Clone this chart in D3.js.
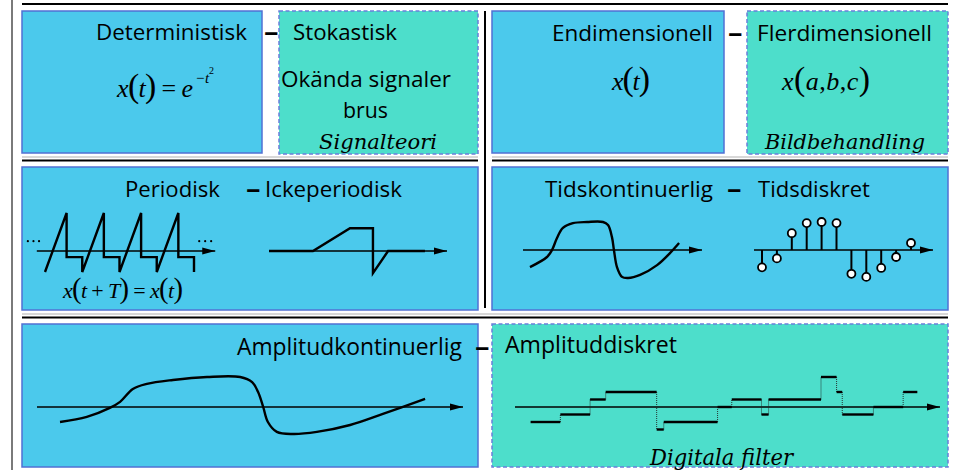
<!DOCTYPE html>
<html><head><meta charset="utf-8">
<script src="https://cdn.jsdelivr.net/npm/d3@7"></script>
<style>body{margin:0;background:#fff;} svg{display:block}</style>
</head><body><svg id="c" width="955" height="470"></svg>
<script>
// ---------- data ----------
// Periodisk sawtooth (time in periods, amplitude)
const sawT = [0,0.58,0.58,1,1,1.58,1.58,2,2,2.58,2.58,3,3,3.58,3.58,4,4];
const sawV = [-0.55,1,-0.16,-0.16,-0.55,1,-0.16,-0.16,-0.55,1,-0.16,-0.16,-0.55,1,-0.16,-0.16,-0.55];
const dotsT = [-0.46,-0.31,-0.16, 4.14,4.30,4.46];
// Ickeperiodisk
const apT = [0, 2.47, 4.55, 5.84, 5.84, 6.69, 8.76];
const apV = [0, 0, 0.6, 0.6, -0.58, 0, 0];
// Tidskontinuerlig
const ctT = [0.39,1.34,1.62,1.90,2.23,2.79,3.58,4.47,4.75,4.97,5.08,5.25,5.53,5.87,6.54,7.49,8.21,8.72];
const ctV = [-0.61,-0.25,0,0.43,0.79,0.96,1,1,0.89,0.46,0,-0.61,-0.96,-1,-0.89,-0.54,-0.11,0.25];
// Tidsdiskret
const dN = [0,1,2,3,4,5,6,7,8,9,10];
const dV = [-0.62,-0.3,0.6,0.96,1.0,0.96,-0.85,-0.96,-0.64,-0.25,0.25];
// Amplitudkontinuerlig
const acT = [0.54,1.17,1.71,1.95,2.25,2.58,3.19,3.99,4.77,5.05,5.19,5.31,5.42,5.63,6.01,6.57,7.35,8.12,9.11];
const acV = [-0.5,-0.33,-0.03,0.17,0.6,0.77,0.9,1,1,0.83,0.5,0,-0.5,-0.83,-0.9,-0.83,-0.6,-0.23,0.27];
// Amplituddiskret (step edges and quantised levels)
const stepEdges = [1.1,3.2,5.3,6.4,10.0,10.5,14.3,15.3,17.4,17.9,21.6,22.7,23.1,25.3,27.4,28.4];
const stepLevels = [-2,-1,1,2,-3,-2,0,1,-1,1,4,2,-1,0,2];

// ---------- drawing ----------
const svg = d3.select('#c');
const BLUE='#4bc9ec', TEAL='#4ddecb', BORDER='#5070d4', DASHB='#6a7fda';
const SANS="'Open Sans', 'Noto Sans', sans-serif";
const SERIF="'Liberation Serif', 'Times New Roman', serif";
const ISERIF="'DejaVu Serif', serif";

const defs = svg.append('defs');
defs.append('marker').attr('id','arr').attr('markerUnits','userSpaceOnUse')
  .attr('markerWidth',14).attr('markerHeight',8).attr('refX',13).attr('refY',4).attr('orient','auto')
  .append('path').attr('d','M0,0.5 L13,4 L0,7.5 Z').attr('fill','#000');

// frame lines
svg.append('line').attr('x1',12).attr('x2',12).attr('y1',0).attr('y2',470).attr('stroke','#7a7a7a').attr('stroke-width',2);
svg.append('line').attr('x1',22).attr('x2',948).attr('y1',4).attr('y2',4).attr('stroke','#000').attr('stroke-width',2);
[[22,478],[492,948]].forEach(([a,b])=>{
  svg.append('line').attr('x1',a).attr('x2',b).attr('y1',157).attr('y2',157).attr('stroke','#b0b0b0').attr('stroke-width',1);
  svg.append('line').attr('x1',a).attr('x2',b).attr('y1',160.5).attr('y2',160.5).attr('stroke','#000').attr('stroke-width',2);
});
svg.append('line').attr('x1',22).attr('x2',948).attr('y1',314).attr('y2',314).attr('stroke','#b0b0b0').attr('stroke-width',1);
svg.append('line').attr('x1',22).attr('x2',948).attr('y1',317.5).attr('y2',317.5).attr('stroke','#000').attr('stroke-width',2);
svg.append('line').attr('x1',485).attr('x2',485).attr('y1',11).attr('y2',308).attr('stroke','#000').attr('stroke-width',2);

// boxes
const boxes = [[22,11,262,153,'b'],[279,11,478,154,'t'],[492,11,724,153,'b'],[747,11,948,154,'t'],
               [22,167,478,310,'b'],[492,167,948,310,'b'],[22,324,478,467,'b'],[492,324,948,467,'t']];
boxes.forEach(([x0,y0,x1,y1,k])=>{
  svg.append('rect').attr('x',x0).attr('y',y0).attr('width',x1-x0).attr('height',y1-y0)
    .attr('fill',k==='b'?BLUE:TEAL).attr('stroke',k==='b'?BORDER:DASHB).attr('stroke-width',1.5)
    .attr('stroke-dasharray',k==='b'?null:'4,2.5');
});

function label(txt,x,y,w,fam,italic){
  const t = svg.append('text').attr('x',x).attr('y',y).text(txt)
    .attr('font-family',fam||SANS).attr('font-style',italic?'italic':'normal')
    .attr('font-size',20).attr('fill','#000');
  if(w){ const L=t.node().getComputedTextLength(); t.attr('font-size',(20*w/L).toFixed(2)); }
  return t;
}
function ilabel(txt,x,y,w,size){
  return svg.append('text').attr('x',x).attr('y',y).text(txt)
    .attr('font-family',ISERIF).attr('font-style','italic').attr('font-size',size)
    .attr('textLength',w).attr('lengthAdjust','spacingAndGlyphs').attr('fill','#000');
}
function dash(x,y){ return label('–',x,y,null).attr('font-size',29).attr('font-weight',600); }
label('Deterministisk',96,40,151);
dash(264,41);
label('Stokastisk',293,40,104);
label('Okända signaler',281,87,170);
label('brus',343,118,45);
ilabel('Signalteori',319,149,118,21);
label('Endimensionell',552,41,161);
dash(728,42);
label('Flerdimensionell',757,41,175);
ilabel('Bildbehandling',765,149,160,21);
label('Periodisk',125,197,95);
dash(246,198);
label('Ickeperiodisk',265,197,137);
label('Tidskontinuerlig',545,197,168);
dash(727,198);
label('Tidsdiskret',758,197,112);
label('Amplitudkontinuerlig',237,355,225);
dash(475,356);
label('Amplituddiskret',505,353,172);
ilabel('Digitala filter',650,465,143,22);

// formulas
function formula(parts,x,y,w,size){
  const t = svg.append('text').attr('x',x).attr('y',y).attr('font-family',SERIF).attr('font-size',size).attr('fill','#000');
  parts.forEach(([s,it,big])=>{
    t.append('tspan').text(s).attr('font-style',it?'italic':'normal').attr('font-size',big?size*1.3:size);
  });
  if(w){ t.attr('textLength',w).attr('lengthAdjust','spacing'); }
  return t;
}
formula([['x',1],['(',0,1],['t',1],[')',0,1],[' = ',0],['e',1]],117,97,76,26);
svg.append('text').attr('x',195).attr('y',83).attr('font-family',SERIF).attr('font-size',15).attr('font-style','italic').text('−t');
svg.append('text').attr('x',209).attr('y',74).attr('font-family',SERIF).attr('font-size',10).text('2');
formula([['x',1],['(',0,1],['t',1],[')',0,1]],612,90,38,26);
formula([['x',1],['(',0,1],['a',1],[',',0],['b',1],[',',0],['c',1],[')',0,1]],782,90,88,26);
formula([['x',1],['(',0,1],['t',1],[' + ',0],['T',1],[')',0,1],[' = ',0],['x',1],['(',0,1],['t',1],[')',0,1]],63,298,120,22);

// helper to draw axis line with arrow
function axis(x0,x1,y){
  svg.append('line').attr('x1',x0).attr('x2',x1).attr('y1',y).attr('y2',y)
    .attr('stroke','#000').attr('stroke-width',1.4).attr('marker-end','url(#arr)');
}
const SW=2.4;

// Periodisk
{
  const x=d3.scaleLinear().domain([0,4]).range([45,194]);
  const y=d3.scaleLinear().domain([-0.55,1]).range([272,213]);
  axis(x(-0.22),x(4.57),y(0));
  svg.append('path').datum(sawT.map((t,i)=>[t,sawV[i]]))
    .attr('d',d3.line().x(d=>x(d[0])).y(d=>y(d[1])))
    .attr('fill','none').attr('stroke','#000').attr('stroke-width',SW).attr('stroke-linejoin','miter');
  svg.selectAll('.dot').data(dotsT).join('circle').attr('cx',d=>x(d)).attr('cy',y(0.26)).attr('r',1.1).attr('fill','#000');
}
// Ickeperiodisk
{
  const x=d3.scaleLinear().domain([0,10]).range([269,447]);
  const y=d3.scaleLinear().domain([-0.55,1]).range([272,213]);
  axis(x(0),x(10),y(0));
  svg.append('path').datum(apT.map((t,i)=>[t,apV[i]]))
    .attr('d',d3.line().x(d=>x(d[0])).y(d=>y(d[1])))
    .attr('fill','none').attr('stroke','#000').attr('stroke-width',SW);
}
// Tidskontinuerlig
{
  const x=d3.scaleLinear().domain([0,10]).range([523,702]);
  const y=d3.scaleLinear().domain([-1,1]).range([278,222]);
  axis(x(0),x(10),y(0));
  svg.append('path').datum(ctT.map((t,i)=>[t,ctV[i]]))
    .attr('d',d3.line().curve(d3.curveCatmullRom).x(d=>x(d[0])).y(d=>y(d[1])))
    .attr('fill','none').attr('stroke','#000').attr('stroke-width',SW);
}
// Tidsdiskret
{
  const x=d3.scaleLinear().domain([0,10]).range([762,911]);
  const y=d3.scaleLinear().domain([-1,1]).range([278,222]);
  axis(754,933,y(0));
  svg.selectAll('.stem').data(dN).join('line').attr('x1',d=>x(d)).attr('x2',d=>x(d))
    .attr('y1',y(0)).attr('y2',(d,i)=>y(dV[i])).attr('stroke','#000').attr('stroke-width',2);
  svg.selectAll('.head').data(dN).join('circle').attr('cx',d=>x(d)).attr('cy',(d,i)=>y(dV[i]))
    .attr('r',4).attr('fill','#fff').attr('stroke','#000').attr('stroke-width',1.8);
}
// Amplitudkontinuerlig
{
  const x=d3.scaleLinear().domain([0,10]).range([37,463]);
  const y=d3.scaleLinear().domain([-1,1]).range([437,377]);
  axis(x(0),x(10),y(0));
  svg.append('path').datum(acT.map((t,i)=>[t,acV[i]]))
    .attr('d',d3.line().curve(d3.curveCatmullRom).x(d=>x(d[0])).y(d=>y(d[1])))
    .attr('fill','none').attr('stroke','#000').attr('stroke-width',SW);
}
// Amplituddiskret
{
  const x=d3.scaleLinear().domain([0,30]).range([515,940]);
  const y=d3.scaleLinear().domain([-4,4]).range([437,377]);
  axis(x(0),x(30),y(0));
  const segs = stepLevels.map((l,i)=>({a:stepEdges[i],b:stepEdges[i+1],l}));
  svg.selectAll('.vs').data(segs.slice(1)).join('line')
    .attr('x1',(d)=>x(d.a)).attr('x2',d=>x(d.a))
    .attr('y1',(d,i)=>y(segs[i].l)).attr('y2',d=>y(d.l))
    .attr('stroke','#222').attr('stroke-width',0.9).attr('stroke-dasharray','1,1');
  svg.selectAll('.hs').data(segs).join('line')
    .attr('x1',d=>x(d.a)).attr('x2',d=>x(d.b)).attr('y1',d=>y(d.l)).attr('y2',d=>y(d.l))
    .attr('stroke','#000').attr('stroke-width',SW);
}
</script></body></html>
